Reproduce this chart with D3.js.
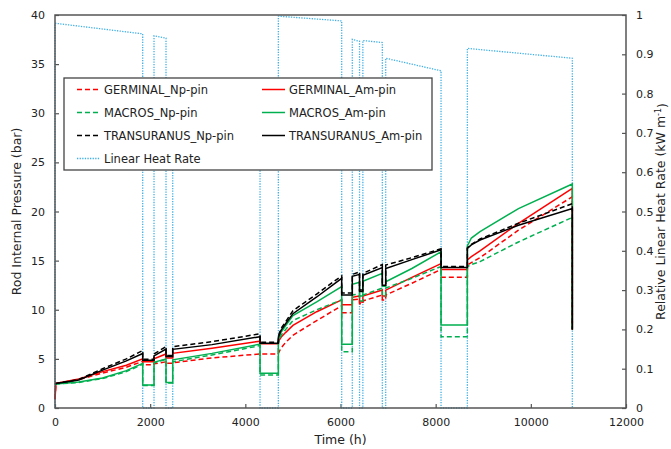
<!DOCTYPE html>
<html lang="en">
<head>
<meta charset="UTF-8">
<title>Rod Internal Pressure</title>
<script src="https://d3js.org/d3.v7.min.js"></script>
<style>
    body { margin: 0; background: #fff; font-family: "DejaVu Sans", Verdana, sans-serif; }
    .axis text { font-size: 11px; fill: #222; font-family: "DejaVu Sans", Verdana, sans-serif; }
    .axis path { display: none; }
    .axis line { stroke: #555; stroke-width: 1.2; }
    .title { font-size: 12.5px; fill: #222; }
    .legend-label { font-size: 11.5px; fill: #222; }
</style>
</head>
<body>
<svg id="chart" width="671" height="449"></svg>
<script>
// time points (h), duplicated where a step happens
const timeH = [0, 20, 500, 1000, 1500, 1843, 1843, 2081, 2081, 2333, 2333, 2474, 2474, 3300, 4309, 4309, 4694, 4694,
    4750, 4850, 5000, 5500, 6025, 6025, 6248, 6248, 6400, 6400, 6470, 6470, 6879, 6879, 6950, 6950, 7500, 8113, 8113,
    8666, 8666, 8750, 8932, 9740, 10872, 10872];

const germinalNp = [0.9, 2.5, 2.9, 3.55, 4.15, 4.75, 4.4, 4.4, 4.5, 4.7, 4.55, 4.55, 4.6, 5.1, 5.5, 5.5, 5.5, 5.56,
    6.1, 6.7, 7.4, 8.9, 10.4, 9.7, 9.7, 11.0, 11.1, 10.6, 10.6, 10.9, 11.5, 11.0, 11.0, 11.5, 12.7, 14.1, 13.3,
    13.3, 14.55, 14.8, 15.3, 18.1, 21.5, 8.0];
const germinalAm = [0.9, 2.5, 2.95, 3.7, 4.35, 5.0, 4.7, 4.7, 5.0, 5.5, 5.1, 5.1, 5.56, 6.07, 6.8, 6.55, 6.55, 6.75,
    7.2, 7.7, 8.4, 9.8, 11.0, 10.5, 10.5, 11.27, 11.4, 10.8, 10.8, 11.4, 12.0, 11.4, 11.4, 12.0, 13.3, 14.7, 14.1,
    14.1, 15.06, 15.4, 16.0, 18.8, 22.36, 8.0];
const macrosNp = [2.5, 2.45, 2.6, 3.0, 3.7, 4.45, 2.3, 2.3, 4.6, 4.95, 2.55, 2.55, 4.7, 5.4, 6.35, 3.35, 3.35, 6.6,
    7.4, 8.0, 8.9, 10.0, 11.0, 5.73, 5.73, 11.5, 11.6, 10.9, 10.9, 11.5, 12.2, 11.4, 11.4, 12.2, 13.2, 14.4, 7.26,
    7.26, 14.4, 14.6, 14.9, 16.9, 19.4, 8.0];
const macrosAm = [2.5, 2.45, 2.65, 3.05, 3.8, 4.55, 2.35, 2.35, 4.65, 5.0, 2.6, 2.6, 4.9, 5.56, 6.5, 3.53, 3.53, 6.9,
    7.7, 8.4, 9.4, 10.8, 12.35, 6.5, 6.5, 12.6, 12.8, 11.4, 11.4, 12.9, 13.7, 12.4, 12.4, 12.85, 14.2, 15.9, 8.45,
    8.45, 16.5, 17.3, 17.95, 20.3, 22.8, 8.0];
const transuranusNp = [2.5, 2.5, 2.9, 4.0, 5.0, 5.85, 4.95, 4.95, 5.5, 6.25, 5.35, 5.35, 6.24, 6.75, 7.55, 6.7, 6.7, 7.3,
    8.1, 8.8, 9.9, 11.6, 13.45, 11.7, 11.7, 13.6, 13.85, 12.0, 12.0, 13.7, 14.6, 12.7, 12.7, 14.55, 15.3, 16.2, 14.4,
    14.4, 16.3, 16.65, 17.2, 18.8, 20.8, 8.0];
const transuranusAm = [2.5, 2.5, 2.85, 3.85, 4.8, 5.55, 4.85, 4.85, 5.3, 6.0, 5.25, 5.25, 5.97, 6.45, 7.26, 6.58, 6.58, 7.2,
    7.9, 8.6, 9.6, 11.3, 13.2, 11.5, 11.5, 13.4, 13.6, 11.85, 11.85, 13.5, 14.3, 12.5, 12.5, 14.2, 15.1, 16.1, 14.3,
    14.3, 16.25, 16.6, 17.1, 18.6, 20.3, 8.0];

// relative linear heat rate (right axis)
const lhrTime = [0, 0, 1843, 1843, 2081, 2081, 2333, 2333, 2474, 2474, 4309, 4309, 4694, 4694, 6025, 6025, 6248, 6248,
    6400, 6400, 6470, 6470, 6879, 6879, 6950, 6950, 8113, 8113, 8666, 8666, 10872, 10872];
const lhrValue = [0, 0.979, 0.952, 0, 0, 0.947, 0.941, 0, 0, 0.80, 0.78, 0, 0, 0.997, 0.985, 0, 0, 0.938,
    0.933, 0, 0, 0.935, 0.930, 0, 0, 0.89, 0.858, 0, 0, 0.915, 0.89, 0];

const xTicks = [0, 2000, 4000, 6000, 8000, 10000, 12000];
const yTicks = [0, 5, 10, 15, 20, 25, 30, 35, 40];
const y2Ticks = [0, 0.1, 0.2, 0.3, 0.4, 0.5, 0.6, 0.7, 0.8, 0.9, 1];

const series = [
    { name: "GERMINAL_Np-pin", values: germinalNp, color: "#ff0000", dash: "5,3" },
    { name: "GERMINAL_Am-pin", values: germinalAm, color: "#ff0000", dash: null },
    { name: "MACROS_Np-pin", values: macrosNp, color: "#00b050", dash: "5,3" },
    { name: "MACROS_Am-pin", values: macrosAm, color: "#00b050", dash: null },
    { name: "TRANSURANUS_Np-pin", values: transuranusNp, color: "#000000", dash: "5,3" },
    { name: "TRANSURANUS_Am-pin", values: transuranusAm, color: "#000000", dash: null }
];
const lhrColor = "#3fb0e6";

const svg = d3.select("#chart");
const margin = { left: 55, top: 15, right: 45, bottom: 41 };
const width = 671 - margin.left - margin.right;
const height = 449 - margin.top - margin.bottom;

const g = svg.append("g").attr("transform", `translate(${margin.left},${margin.top})`);

const x = d3.scaleLinear().domain([0, 12000]).range([0, width]);
const y = d3.scaleLinear().domain([0, 40]).range([height, 0]);
const y2 = d3.scaleLinear().domain([0, 1]).range([height, 0]);

// axes with inward ticks
g.append("g").attr("class", "axis")
    .attr("transform", `translate(0,${height})`)
    .call(d3.axisBottom(x).tickValues(xTicks).tickSize(-4).tickPadding(10).tickFormat(d3.format("d")));
g.append("g").attr("class", "axis")
    .call(d3.axisLeft(y).tickValues(yTicks).tickSize(-4).tickPadding(10));
g.append("g").attr("class", "axis")
    .attr("transform", `translate(${width},0)`)
    .call(d3.axisRight(y2).tickValues(y2Ticks).tickSize(-4).tickPadding(10).tickFormat(d => +d.toFixed(1)));

// heat rate dotted line
const lhrLine = d3.line().x((d, i) => x(lhrTime[i])).y(d => y2(d));
g.append("path")
    .datum(lhrValue)
    .attr("d", lhrLine)
    .attr("fill", "none")
    .attr("stroke", lhrColor)
    .attr("stroke-width", 1.3)
    .attr("stroke-dasharray", "1.3,1.3");

// pressure lines
const line = d3.line().x((d, i) => x(timeH[i])).y(d => y(d));
series.forEach(s => {
    g.append("path")
        .datum(s.values)
        .attr("d", line)
        .attr("fill", "none")
        .attr("stroke", s.color)
        .attr("stroke-width", 1.5)
        .attr("stroke-dasharray", s.dash);
});

// frame
g.append("rect")
    .attr("width", width).attr("height", height)
    .attr("fill", "none").attr("stroke", "#555").attr("stroke-width", 1.5);

// legend
const legend = g.append("g").attr("transform", "translate(9,63)");
legend.append("rect")
    .attr("width", 368).attr("height", 92)
    .attr("fill", "#fff").attr("stroke", "#444").attr("stroke-width", 1.3);
const legendItems = series.map(s => ({ name: s.name, color: s.color, dash: s.dash, width: 1.5 }));
legendItems.push({ name: "Linear Heat Rate", color: lhrColor, dash: "1.3,1.3", width: 1.3 });
legendItems.forEach((d, i) => {
    const col = i % 2, row = Math.floor(i / 2);
    const lx = col === 0 ? 13 : 198;
    const ly = 11.5 + row * 23;
    legend.append("line")
        .attr("x1", lx).attr("x2", lx + 23).attr("y1", ly).attr("y2", ly)
        .attr("stroke", d.color).attr("stroke-width", d.width).attr("stroke-dasharray", d.dash);
    legend.append("text")
        .attr("class", "legend-label")
        .attr("x", lx + 27).attr("y", ly).attr("dy", "0.35em")
        .text(d.name);
});

// axis titles
svg.append("text").attr("class", "title")
    .attr("x", margin.left + width / 2).attr("y", 444)
    .attr("text-anchor", "middle").text("Time (h)");
svg.append("text").attr("class", "title")
    .attr("transform", `translate(21,${margin.top + height / 2}) rotate(-90)`)
    .attr("text-anchor", "middle").text("Rod Internal Pressure (bar)");
const rt = svg.append("text").attr("class", "title")
    .attr("transform", `translate(665,${margin.top + height / 2}) rotate(-90)`)
    .attr("text-anchor", "middle");
rt.append("tspan").text("Relative Linear Heat Rate  (kW m");
rt.append("tspan").attr("dy", "-0.45em").attr("font-size", "8px").text("-1");
rt.append("tspan").attr("dy", "0.45em").text(")");
</script>
</body>
</html>
